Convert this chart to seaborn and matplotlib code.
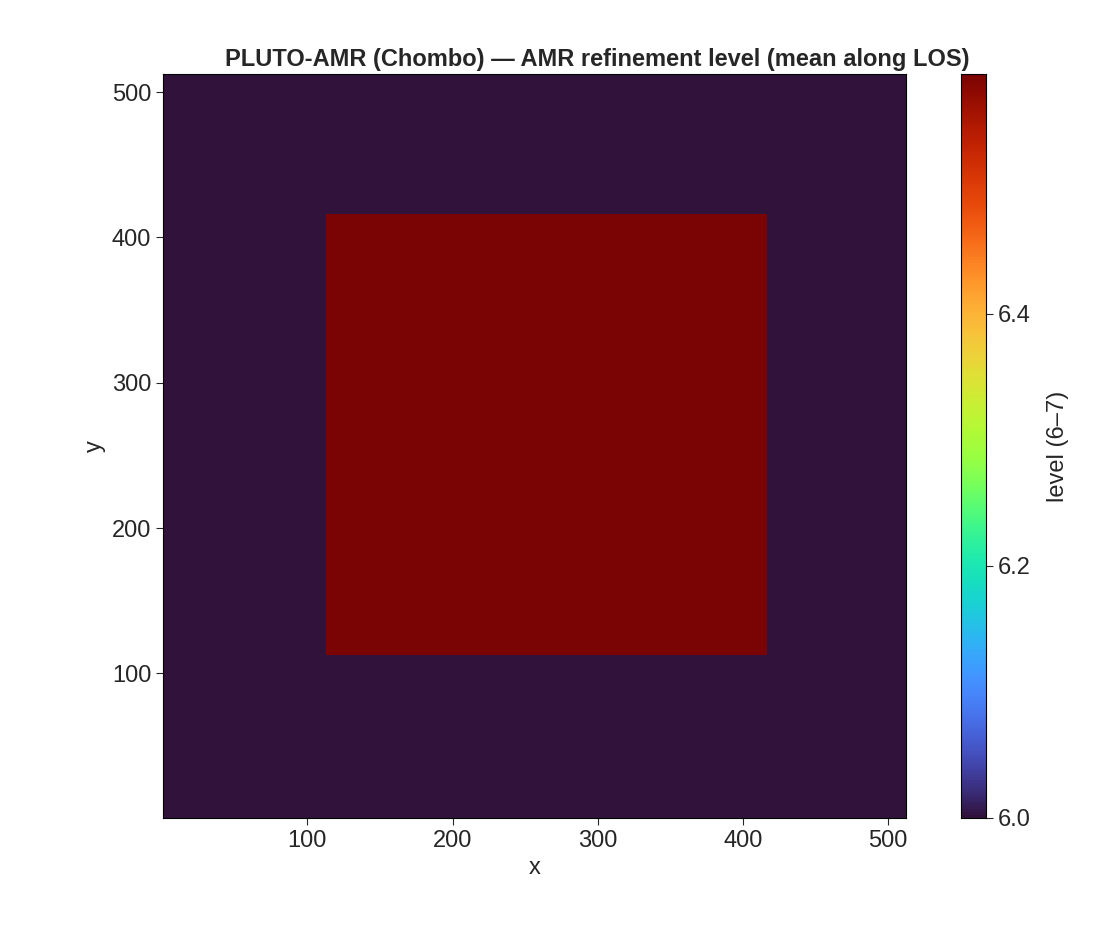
import numpy as np
import seaborn as sns
import matplotlib
matplotlib.use("Agg")
import matplotlib.pyplot as plt

# grid and refinement box (cell indices, 1-based)
n = 512
box_lo = 113
box_hi = 416
level_base = 6.0
level_box = 6.59
ticks = [100, 200, 300, 400, 500]
cbar_ticks = [6.0, 6.2, 6.4]

level = np.full((n, n), level_base)
level[box_lo - 1:box_hi, box_lo - 1:box_hi] = level_box

sns.set_style("white")
plt.rcParams['font.family'] = ['Liberation Sans', 'DejaVu Sans']

fig = plt.figure(figsize=(11.2, 9.4), dpi=100)
ax = fig.add_axes([163 / 1120, 1 - 818 / 940, 743 / 1120, 744 / 940])
cax = fig.add_axes([961 / 1120, 1 - 818 / 940, 25 / 1120, 744 / 940])

sns.heatmap(level, ax=ax, cbar_ax=cax, cmap="turbo", vmin=level_base, vmax=level_box,
            xticklabels=False, yticklabels=False, rasterized=True)
ax.invert_yaxis()
ax.set_xticks([t - 0.5 for t in ticks])
ax.set_xticklabels(ticks)
ax.set_yticks([t - 0.5 for t in ticks])
ax.set_yticklabels(ticks, rotation=0)
ax.tick_params(labelsize=17, length=5, left=True, bottom=True)
for s in ax.spines.values():
    s.set_visible(True)
    s.set_color("black")
ax.set_xlabel("x", fontsize=17)
ax.set_ylabel("y", fontsize=17)
ax.set_title("PLUTO-AMR (Chombo) — AMR refinement level (mean along LOS)",
             fontsize=17, fontweight="bold", loc="center", x=0.585)

cax.set_yticks(cbar_ticks)
cax.set_yticklabels([f"{t:.1f}" for t in cbar_ticks])
cax.tick_params(labelsize=17, length=5, right=True)
cax.set_ylabel("level (6–7)", fontsize=17, labelpad=12)
for s in cax.spines.values():
    s.set_visible(True)
    s.set_color("black")

fig.savefig("out.png", dpi=100)
